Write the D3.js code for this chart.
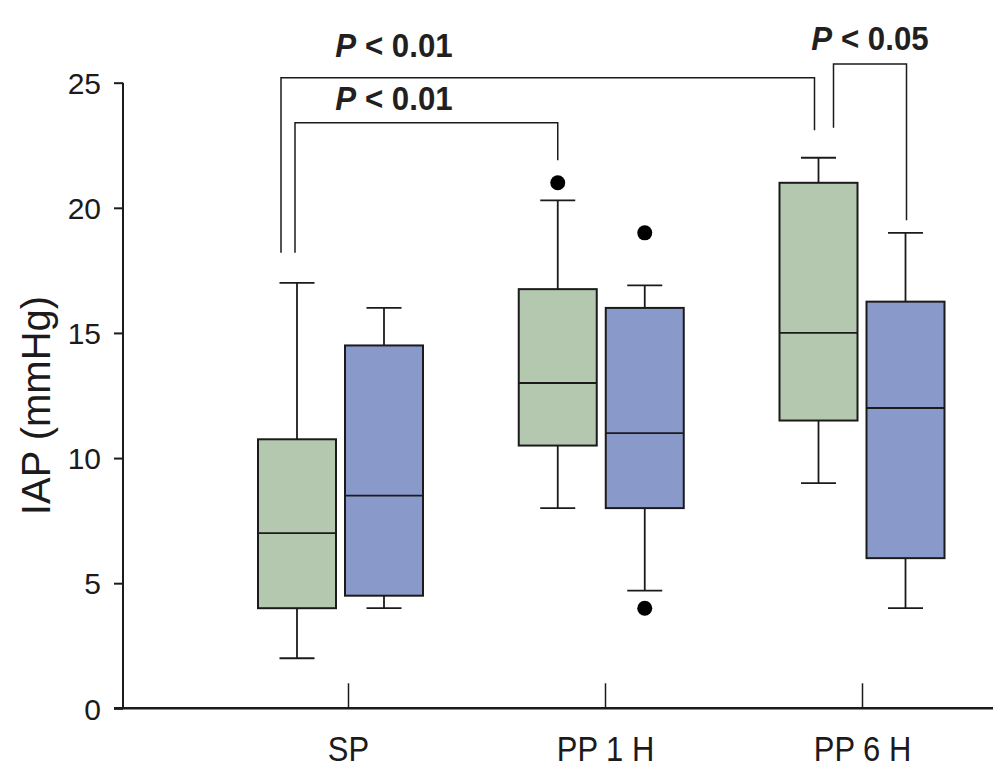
<!DOCTYPE html>
<html><head><meta charset="utf-8">
<script src="https://cdn.jsdelivr.net/npm/d3@7"></script>
<style>
html,body{margin:0;padding:0;background:#fff;}
svg{display:block;}
</style></head>
<body>
<svg id="chart" width="1004" height="776"></svg>
<script>
// ---- data ----
const categories = ["SP", "PP 1 H", "PP 6 H"];
const seriesNames = ["Group A", "Group B"];
const seriesColors = ["#b4c8b0", "#8999c9"];
// per series, per category: [whiskerLow, q1, median, q3, whiskerHigh]
const seriesA = [
  [2, 4, 7, 10.75, 17],
  [8, 10.5, 13, 16.75, 20.3],
  [9, 11.5, 15, 21, 22]
];
const seriesB = [
  [4, 4.5, 8.5, 14.5, 16],
  [4.7, 8, 11, 16, 16.9],
  [4, 6, 12, 16.25, 19]
];
const outliersA = [[], [21], []];
const outliersB = [[], [19, 4], []];
const yTicks = [0, 5, 10, 15, 20, 25];
const yLabel = "IAP (mmHg)";
// significance brackets: from/to [categoryIndex, seriesIndex], bar level and leg ends (data units)
const brackets = [
  {from: [0, 0], to: [2, 0], level: 25.2, leftEnd: 18.2, rightEnd: 23.1, label: "< 0.01", fromShift: -16, toShift: -4, labelX: 394, labelY: 57},
  {from: [0, 0], to: [1, 0], level: 23.4, leftEnd: 18.2, rightEnd: 21.9, label: "< 0.01", fromShift: -2, toShift: 0, labelX: 394, labelY: 110},
  {from: [2, 0], to: [2, 1], level: 25.75, leftEnd: 23.2, rightEnd: 19.5, label: "< 0.05", fromShift: 15, toShift: 1, labelX: 870, labelY: 50}
];

// ---- layout ----
const svg = d3.select("#chart");
const ink = "#1c1a1b";
const y = d3.scaleLinear().domain([0, 25]).range([708.3, 82.7]);
const x = d3.scalePoint().domain(categories).range([340.5, 862]);
const xTick = d3.scalePoint().domain(categories).range([348, 862]);
const boxW = 78, offset = 43.5, capW = 35;
const sx = (ci, si) => x(categories[ci]) + (si === 0 ? -offset : offset);

// y axis
const yAxis = svg.append("g").attr("transform", "translate(123,0)")
  .call(d3.axisLeft(y).tickValues(yTicks).tickSize(9).tickPadding(13).tickFormat(d3.format("d")));
yAxis.select(".domain").attr("stroke", ink).attr("stroke-width", 2).attr("d", `M0,${y(25)}V${y(0)}`);
yAxis.selectAll(".tick line").attr("stroke", ink).attr("stroke-width", 2);
yAxis.selectAll(".tick text").attr("fill", ink).attr("dy", "0.36em")
  .style("font-family", "'Liberation Sans', Arial, sans-serif").style("font-size", "30px");

// x axis
const xAxis = svg.append("g").attr("transform", `translate(0,${y(0)})`)
  .call(d3.axisBottom(xTick).tickSize(-25).tickPadding(0));
xAxis.select(".domain").attr("stroke", ink).attr("stroke-width", 2.5).attr("d", `M114,0H993`);
xAxis.selectAll(".tick line").attr("stroke", ink).attr("stroke-width", 1.5);
xAxis.selectAll(".tick text").attr("fill", ink).attr("y", 0).attr("dy", 0)
  .attr("transform", "translate(0,53) scale(0.86,1)")
  .style("font-family", "'Liberation Sans', Arial, sans-serif")
  .style("font-size", "36px");

// y label
svg.append("text")
  .attr("transform", `translate(50,${(y(0) + y(25)) / 2 + 10}) rotate(-90)`)
  .attr("text-anchor", "middle").attr("fill", ink)
  .style("font-family", "'Liberation Sans', Arial, sans-serif").style("font-size", "40px")
  .text(yLabel);

// boxes
const all = [seriesA, seriesB];
const outs = [outliersA, outliersB];
all.forEach((ser, si) => {
  const g = svg.append("g");
  ser.forEach((s, ci) => {
    const cx = sx(ci, si);
    const [lo, q1, med, q3, hi] = s;
    g.append("line").attr("x1", cx).attr("x2", cx).attr("y1", y(q3)).attr("y2", y(hi))
      .attr("stroke", ink).attr("stroke-width", 1.8);
    g.append("line").attr("x1", cx).attr("x2", cx).attr("y1", y(q1)).attr("y2", y(lo))
      .attr("stroke", ink).attr("stroke-width", 1.8);
    g.append("line").attr("x1", cx - capW / 2).attr("x2", cx + capW / 2).attr("y1", y(hi)).attr("y2", y(hi))
      .attr("stroke", ink).attr("stroke-width", 1.8);
    g.append("line").attr("x1", cx - capW / 2).attr("x2", cx + capW / 2).attr("y1", y(lo)).attr("y2", y(lo))
      .attr("stroke", ink).attr("stroke-width", 1.8);
    g.append("rect").attr("x", cx - boxW / 2).attr("width", boxW)
      .attr("y", y(q3)).attr("height", y(q1) - y(q3))
      .attr("fill", seriesColors[si]).attr("stroke", ink).attr("stroke-width", 2);
    g.append("line").attr("x1", cx - boxW / 2).attr("x2", cx + boxW / 2).attr("y1", y(med)).attr("y2", y(med))
      .attr("stroke", ink).attr("stroke-width", 1.8);
    outs[si][ci].forEach(v => {
      g.append("circle").attr("cx", cx).attr("cy", y(v)).attr("r", 7.5).attr("fill", "#000");
    });
  });
});

// brackets
brackets.forEach(b => {
  const x1 = sx(b.from[0], b.from[1]) + b.fromShift;
  const x2 = sx(b.to[0], b.to[1]) + b.toShift;
  svg.append("path")
    .attr("d", `M${x1},${y(b.leftEnd)}V${y(b.level)}H${x2}V${y(b.rightEnd)}`)
    .attr("fill", "none").attr("stroke", ink).attr("stroke-width", 1.5);
  const t = svg.append("text").attr("x", 0).attr("y", 0).attr("text-anchor", "middle")
    .attr("transform", `translate(${b.labelX},${b.labelY}) scale(0.92,1)`)
    .attr("fill", "#231f20")
    .style("font-family", "'Liberation Sans', Arial, sans-serif")
    .style("font-size", "34px").style("font-weight", "bold");
  t.append("tspan").style("font-style", "italic").text("P");
  t.append("tspan").text(" " + b.label);
});
</script>
</body></html>
